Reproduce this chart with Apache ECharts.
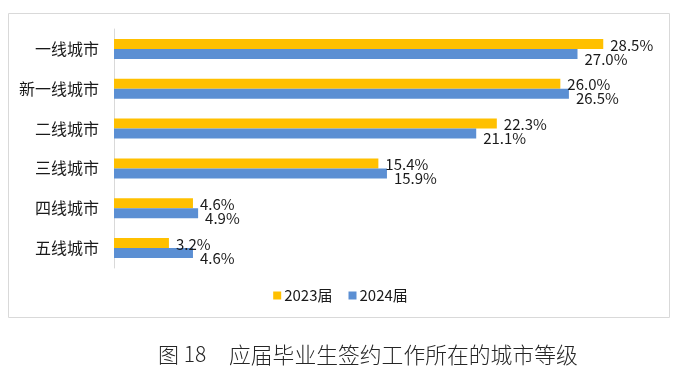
<!DOCTYPE html>
<html><head><meta charset="utf-8">
<script src="https://cdn.jsdelivr.net/npm/echarts@6/dist/echarts.min.js"></script>
<style>html,body{margin:0;padding:0;background:#fff}#c{width:681px;height:379px}</style>
</head><body><div id="c"></div>
<script>
const categories = ['一线城市','新一线城市','二线城市','三线城市','四线城市','五线城市'];
const seriesNames = ['2023届','2024届'];
const values2023 = [28.5, 26.0, 22.3, 15.4, 4.6, 3.2];
const values2024 = [27.0, 26.5, 21.1, 15.9, 4.9, 4.6];
const captionNo = '图 18';
const captionText = '应届毕业生签约工作所在的城市等级';

const chart = echarts.init(document.getElementById('c'), null, {renderer:'canvas'});
const font = '"Liberation Sans Narrow","Noto Sans CJK SC",sans-serif';
const lbl = (dy) => ({show:true, position:'right', distance:7, offset:[0,dy], color:'#1a1a1a', fontSize:15, fontFamily:font, formatter:p=>p.value.toFixed(1)+'%'});
chart.setOption({
  animation:false,
  graphic:[
    {type:'rect', shape:{x:8.5,y:13.5,width:661,height:304}, style:{fill:'none', stroke:'#d9d9d9', lineWidth:1}, silent:true},
    {type:'text', left:158, top:344, style:{text:captionNo, fontSize:21, fontFamily:'"Noto Sans CJK SC",sans-serif', fontWeight:300, fill:'#262626'}},
    {type:'text', left:229, top:344, style:{text:captionText, fontSize:21.8, fontFamily:'"Noto Sans CJK SC",sans-serif', fontWeight:300, fill:'#262626'}}
  ],
  grid:{left:114, top:29, width:515, height:239, containLabel:false},
  legend:{data:seriesNames, top:283, left:'center', itemWidth:8, itemHeight:8, itemGap:16, icon:'rect',
    textStyle:{fontSize:15, fontFamily:font, color:'#1a1a1a', padding:[0,0,0,-2]}},
  xAxis:{type:'value', min:0, max:30, show:false},
  yAxis:{type:'category', data:categories, inverse:true,
    axisLine:{show:true, lineStyle:{color:'#d9d9d9'}}, axisTick:{show:false},
    axisLabel:{fontSize:16, color:'#1a1a1a', fontFamily:font, margin:15}},
  series:[
    {name:seriesNames[0], type:'bar', data:values2023, barWidth:10, barGap:'0%', itemStyle:{color:'#FFC000'}, label:lbl(1)},
    {name:seriesNames[1], type:'bar', data:values2024, barWidth:10, barGap:'0%', itemStyle:{color:'#5B8FD3'}, label:lbl(5)}
  ]
});
</script></body></html>
